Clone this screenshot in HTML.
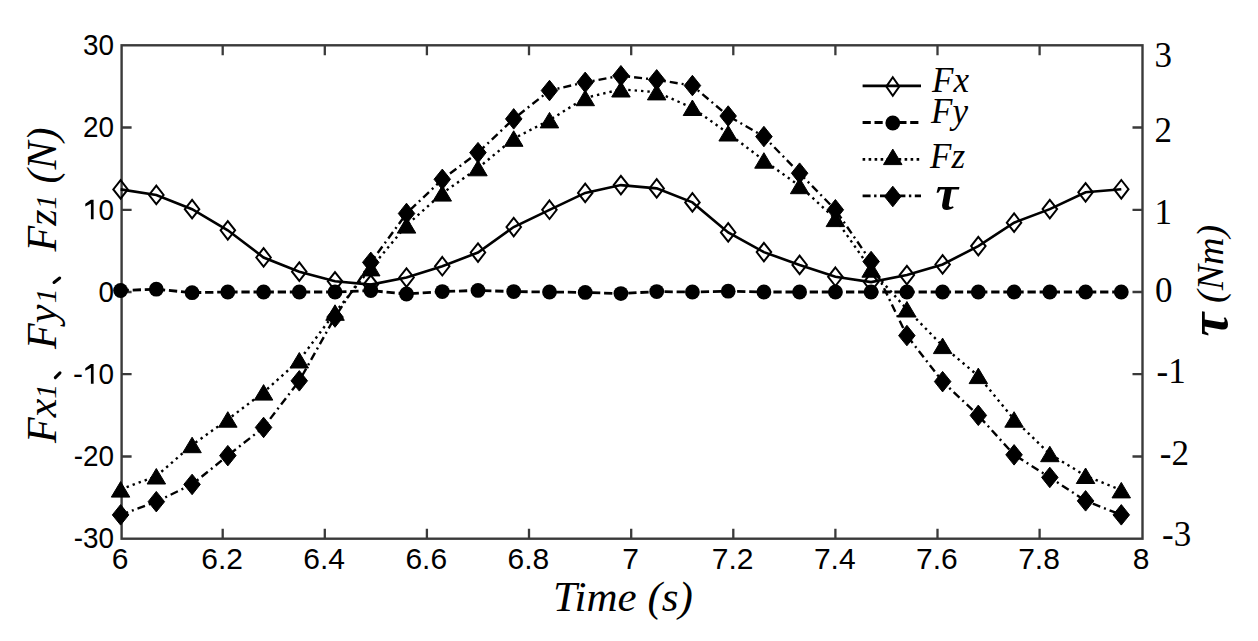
<!DOCTYPE html>
<html><head><meta charset="utf-8"><title>chart</title>
<style>html,body{margin:0;padding:0;background:#fff;}body{width:1258px;height:641px;overflow:hidden;}svg{display:block;}</style>
</head><body>
<svg width="1258" height="641" viewBox="0 0 1258 641">
<rect width="1258" height="641" fill="#fff"/>
<rect x="121.6" y="45.3" width="1020.9" height="493.4" fill="none" stroke="#3a3a3a" stroke-width="2.4"/>
<path d="M222.7 538.7V528.7M222.7 45.3V55.3M324.8 538.7V528.7M324.8 45.3V55.3M426.9 538.7V528.7M426.9 45.3V55.3M529.0 538.7V528.7M529.0 45.3V55.3M631.2 538.7V528.7M631.2 45.3V55.3M733.3 538.7V528.7M733.3 45.3V55.3M835.4 538.7V528.7M835.4 45.3V55.3M937.5 538.7V528.7M937.5 45.3V55.3M1039.6 538.7V528.7M1039.6 45.3V55.3M121.6 456.5H131.6M1142.5 456.5H1132.5M121.6 374.2H131.6M1142.5 374.2H1132.5M121.6 292.0H131.6M1142.5 292.0H1132.5M121.6 209.8H131.6M1142.5 209.8H1132.5M121.6 127.5H131.6M1142.5 127.5H1132.5" stroke="#3a3a3a" stroke-width="2.3" fill="none"/>
<polyline points="120.6,189.4 156.3,195.0 192.1,209.2 227.8,230.3 263.6,257.5 299.3,271.7 335.0,281.3 370.8,284.6 406.5,277.5 442.3,266.3 478.0,252.5 513.7,227.0 549.5,209.8 585.2,192.9 620.9,185.1 656.7,188.4 692.4,202.4 728.2,232.4 763.9,252.1 799.6,264.9 835.4,276.8 871.1,282.1 906.9,275.1 942.6,264.5 978.3,246.1 1014.1,222.7 1049.8,209.1 1085.6,192.3 1121.3,189.2" fill="none" stroke="#000" stroke-width="2.6"/>
<polyline points="120.6,290.5 156.3,289.2 192.1,292.7 227.8,292.0 263.6,292.0 299.3,292.0 335.0,292.0 370.8,290.6 406.5,294.0 442.3,291.6 478.0,290.4 513.7,291.6 549.5,292.0 585.2,292.4 620.9,293.6 656.7,291.6 692.4,292.0 728.2,291.2 763.9,292.0 799.6,292.0 835.4,292.0 871.1,292.0 906.9,292.0 942.6,292.0 978.3,292.0 1014.1,292.0 1049.8,292.0 1085.6,292.0 1121.3,292.0" fill="none" stroke="#000" stroke-width="2.8" stroke-dasharray="8.3 3.8"/>
<polyline points="120.6,489.4 156.3,476.2 192.1,445.0 227.8,419.5 263.6,392.3 299.3,360.3 335.0,312.6 370.8,268.2 406.5,225.4 442.3,193.3 478.0,168.1 513.7,138.6 549.5,120.1 585.2,97.9 620.9,89.3 656.7,92.2 692.4,107.8 728.2,133.3 763.9,160.4 799.6,185.9 835.4,218.8 871.1,269.5 906.9,309.3 942.6,345.9 978.3,375.9 1014.1,419.5 1049.8,454.0 1085.6,475.8 1121.3,490.2" fill="none" stroke="#000" stroke-width="2.4" stroke-dasharray="2.4 4"/>
<polyline points="120.6,514.9 156.3,501.7 192.1,484.4 227.8,455.6 263.6,427.4 299.3,380.8 335.0,317.1 370.8,262.4 406.5,213.5 442.3,179.3 478.0,152.6 513.7,118.9 549.5,90.5 585.2,82.3 620.9,75.7 656.7,79.8 692.4,85.6 728.2,116.0 763.9,136.6 799.6,173.2 835.4,209.8 871.1,261.6 906.9,335.6 942.6,381.6 978.3,415.4 1014.1,454.8 1049.8,477.4 1085.6,500.9 1121.3,514.9" fill="none" stroke="#000" stroke-width="2.4" stroke-dasharray="8 4 2 4"/>
<path d="M120.6 180.1L127.8 189.4L120.6 198.6L113.3 189.4Z" fill="none" stroke="#000" stroke-width="2.0" stroke-linejoin="miter"/>
<path d="M156.3 185.7L163.6 195.0L156.3 204.2L149.1 195.0Z" fill="none" stroke="#000" stroke-width="2.0" stroke-linejoin="miter"/>
<path d="M192.1 199.9L199.3 209.2L192.1 218.4L184.8 209.2Z" fill="none" stroke="#000" stroke-width="2.0" stroke-linejoin="miter"/>
<path d="M227.8 221.1L235.1 230.3L227.8 239.6L220.6 230.3Z" fill="none" stroke="#000" stroke-width="2.0" stroke-linejoin="miter"/>
<path d="M263.6 248.2L270.8 257.5L263.6 266.7L256.3 257.5Z" fill="none" stroke="#000" stroke-width="2.0" stroke-linejoin="miter"/>
<path d="M299.3 262.4L306.5 271.7L299.3 280.9L292.0 271.7Z" fill="none" stroke="#000" stroke-width="2.0" stroke-linejoin="miter"/>
<path d="M335.0 272.1L342.3 281.3L335.0 290.6L327.8 281.3Z" fill="none" stroke="#000" stroke-width="2.0" stroke-linejoin="miter"/>
<path d="M370.8 275.3L378.0 284.6L370.8 293.8L363.5 284.6Z" fill="none" stroke="#000" stroke-width="2.0" stroke-linejoin="miter"/>
<path d="M406.5 268.3L413.8 277.5L406.5 286.8L399.3 277.5Z" fill="none" stroke="#000" stroke-width="2.0" stroke-linejoin="miter"/>
<path d="M442.3 257.0L449.5 266.3L442.3 275.5L435.0 266.3Z" fill="none" stroke="#000" stroke-width="2.0" stroke-linejoin="miter"/>
<path d="M478.0 243.3L485.2 252.5L478.0 261.8L470.7 252.5Z" fill="none" stroke="#000" stroke-width="2.0" stroke-linejoin="miter"/>
<path d="M513.7 217.8L521.0 227.0L513.7 236.3L506.5 227.0Z" fill="none" stroke="#000" stroke-width="2.0" stroke-linejoin="miter"/>
<path d="M549.5 200.5L556.7 209.8L549.5 219.0L542.2 209.8Z" fill="none" stroke="#000" stroke-width="2.0" stroke-linejoin="miter"/>
<path d="M585.2 183.7L592.5 192.9L585.2 202.2L578.0 192.9Z" fill="none" stroke="#000" stroke-width="2.0" stroke-linejoin="miter"/>
<path d="M620.9 175.8L628.2 185.1L620.9 194.3L613.7 185.1Z" fill="none" stroke="#000" stroke-width="2.0" stroke-linejoin="miter"/>
<path d="M656.7 179.1L663.9 188.4L656.7 197.6L649.4 188.4Z" fill="none" stroke="#000" stroke-width="2.0" stroke-linejoin="miter"/>
<path d="M692.4 193.1L699.7 202.4L692.4 211.6L685.2 202.4Z" fill="none" stroke="#000" stroke-width="2.0" stroke-linejoin="miter"/>
<path d="M728.2 223.1L735.4 232.4L728.2 241.6L720.9 232.4Z" fill="none" stroke="#000" stroke-width="2.0" stroke-linejoin="miter"/>
<path d="M763.9 242.9L771.2 252.1L763.9 261.4L756.7 252.1Z" fill="none" stroke="#000" stroke-width="2.0" stroke-linejoin="miter"/>
<path d="M799.6 255.6L806.9 264.9L799.6 274.1L792.4 264.9Z" fill="none" stroke="#000" stroke-width="2.0" stroke-linejoin="miter"/>
<path d="M835.4 267.5L842.6 276.8L835.4 286.0L828.1 276.8Z" fill="none" stroke="#000" stroke-width="2.0" stroke-linejoin="miter"/>
<path d="M871.1 272.9L878.4 282.1L871.1 291.4L863.9 282.1Z" fill="none" stroke="#000" stroke-width="2.0" stroke-linejoin="miter"/>
<path d="M906.9 265.9L914.1 275.1L906.9 284.4L899.6 275.1Z" fill="none" stroke="#000" stroke-width="2.0" stroke-linejoin="miter"/>
<path d="M942.6 255.2L949.9 264.5L942.6 273.7L935.4 264.5Z" fill="none" stroke="#000" stroke-width="2.0" stroke-linejoin="miter"/>
<path d="M978.3 236.9L985.6 246.1L978.3 255.4L971.1 246.1Z" fill="none" stroke="#000" stroke-width="2.0" stroke-linejoin="miter"/>
<path d="M1014.1 213.4L1021.3 222.7L1014.1 231.9L1006.8 222.7Z" fill="none" stroke="#000" stroke-width="2.0" stroke-linejoin="miter"/>
<path d="M1049.8 199.9L1057.1 209.1L1049.8 218.4L1042.6 209.1Z" fill="none" stroke="#000" stroke-width="2.0" stroke-linejoin="miter"/>
<path d="M1085.6 183.1L1092.8 192.3L1085.6 201.6L1078.3 192.3Z" fill="none" stroke="#000" stroke-width="2.0" stroke-linejoin="miter"/>
<path d="M1121.3 180.0L1128.5 189.2L1121.3 198.5L1114.0 189.2Z" fill="none" stroke="#000" stroke-width="2.0" stroke-linejoin="miter"/>
<circle cx="120.6" cy="290.5" r="7.4" fill="#000"/>
<circle cx="156.3" cy="289.2" r="7.4" fill="#000"/>
<circle cx="192.1" cy="292.7" r="7.4" fill="#000"/>
<circle cx="227.8" cy="292.0" r="7.4" fill="#000"/>
<circle cx="263.6" cy="292.0" r="7.4" fill="#000"/>
<circle cx="299.3" cy="292.0" r="7.4" fill="#000"/>
<circle cx="335.0" cy="292.0" r="7.4" fill="#000"/>
<circle cx="370.8" cy="290.6" r="7.4" fill="#000"/>
<circle cx="406.5" cy="294.0" r="7.4" fill="#000"/>
<circle cx="442.3" cy="291.6" r="7.4" fill="#000"/>
<circle cx="478.0" cy="290.4" r="7.4" fill="#000"/>
<circle cx="513.7" cy="291.6" r="7.4" fill="#000"/>
<circle cx="549.5" cy="292.0" r="7.4" fill="#000"/>
<circle cx="585.2" cy="292.4" r="7.4" fill="#000"/>
<circle cx="620.9" cy="293.6" r="7.4" fill="#000"/>
<circle cx="656.7" cy="291.6" r="7.4" fill="#000"/>
<circle cx="692.4" cy="292.0" r="7.4" fill="#000"/>
<circle cx="728.2" cy="291.2" r="7.4" fill="#000"/>
<circle cx="763.9" cy="292.0" r="7.4" fill="#000"/>
<circle cx="799.6" cy="292.0" r="7.4" fill="#000"/>
<circle cx="835.4" cy="292.0" r="7.4" fill="#000"/>
<circle cx="871.1" cy="292.0" r="7.4" fill="#000"/>
<circle cx="906.9" cy="292.0" r="7.4" fill="#000"/>
<circle cx="942.6" cy="292.0" r="7.4" fill="#000"/>
<circle cx="978.3" cy="292.0" r="7.4" fill="#000"/>
<circle cx="1014.1" cy="292.0" r="7.4" fill="#000"/>
<circle cx="1049.8" cy="292.0" r="7.4" fill="#000"/>
<circle cx="1085.6" cy="292.0" r="7.4" fill="#000"/>
<circle cx="1121.3" cy="292.0" r="7.4" fill="#000"/>
<path d="M120.6 481.6L129.8 497.1L111.3 497.1Z" fill="#000" stroke="#000" stroke-width="1"/>
<path d="M156.3 468.5L165.6 484.0L147.1 484.0Z" fill="#000" stroke="#000" stroke-width="1"/>
<path d="M192.1 437.2L201.3 452.7L182.8 452.7Z" fill="#000" stroke="#000" stroke-width="1"/>
<path d="M227.8 411.7L237.1 427.2L218.6 427.2Z" fill="#000" stroke="#000" stroke-width="1"/>
<path d="M263.6 384.6L272.8 400.1L254.3 400.1Z" fill="#000" stroke="#000" stroke-width="1"/>
<path d="M299.3 352.5L308.5 368.0L290.0 368.0Z" fill="#000" stroke="#000" stroke-width="1"/>
<path d="M335.0 304.8L344.3 320.3L325.8 320.3Z" fill="#000" stroke="#000" stroke-width="1"/>
<path d="M370.8 260.4L380.0 275.9L361.5 275.9Z" fill="#000" stroke="#000" stroke-width="1"/>
<path d="M406.5 217.6L415.8 233.1L397.3 233.1Z" fill="#000" stroke="#000" stroke-width="1"/>
<path d="M442.3 185.6L451.5 201.1L433.0 201.1Z" fill="#000" stroke="#000" stroke-width="1"/>
<path d="M478.0 160.3L487.2 175.8L468.7 175.8Z" fill="#000" stroke="#000" stroke-width="1"/>
<path d="M513.7 130.8L523.0 146.3L504.5 146.3Z" fill="#000" stroke="#000" stroke-width="1"/>
<path d="M549.5 112.4L558.7 127.9L540.2 127.9Z" fill="#000" stroke="#000" stroke-width="1"/>
<path d="M585.2 90.2L594.5 105.7L576.0 105.7Z" fill="#000" stroke="#000" stroke-width="1"/>
<path d="M620.9 81.5L630.2 97.0L611.7 97.0Z" fill="#000" stroke="#000" stroke-width="1"/>
<path d="M656.7 84.4L665.9 99.9L647.4 99.9Z" fill="#000" stroke="#000" stroke-width="1"/>
<path d="M692.4 100.0L701.7 115.5L683.2 115.5Z" fill="#000" stroke="#000" stroke-width="1"/>
<path d="M728.2 125.5L737.4 141.0L718.9 141.0Z" fill="#000" stroke="#000" stroke-width="1"/>
<path d="M763.9 152.7L773.2 168.2L754.7 168.2Z" fill="#000" stroke="#000" stroke-width="1"/>
<path d="M799.6 178.2L808.9 193.7L790.4 193.7Z" fill="#000" stroke="#000" stroke-width="1"/>
<path d="M835.4 211.1L844.6 226.6L826.1 226.6Z" fill="#000" stroke="#000" stroke-width="1"/>
<path d="M871.1 261.7L880.4 277.2L861.9 277.2Z" fill="#000" stroke="#000" stroke-width="1"/>
<path d="M906.9 301.5L916.1 317.0L897.6 317.0Z" fill="#000" stroke="#000" stroke-width="1"/>
<path d="M942.6 338.1L951.9 353.6L933.4 353.6Z" fill="#000" stroke="#000" stroke-width="1"/>
<path d="M978.3 368.1L987.6 383.6L969.1 383.6Z" fill="#000" stroke="#000" stroke-width="1"/>
<path d="M1014.1 411.7L1023.3 427.2L1004.8 427.2Z" fill="#000" stroke="#000" stroke-width="1"/>
<path d="M1049.8 446.2L1059.1 461.7L1040.6 461.7Z" fill="#000" stroke="#000" stroke-width="1"/>
<path d="M1085.6 468.0L1094.8 483.5L1076.3 483.5Z" fill="#000" stroke="#000" stroke-width="1"/>
<path d="M1121.3 482.4L1130.5 497.9L1112.0 497.9Z" fill="#000" stroke="#000" stroke-width="1"/>
<path d="M120.6 504.6L128.8 514.9L120.6 525.1L112.3 514.9Z" fill="#000" stroke="#000" stroke-width="1" stroke-linejoin="miter"/>
<path d="M156.3 491.4L164.6 501.7L156.3 511.9L148.1 501.7Z" fill="#000" stroke="#000" stroke-width="1" stroke-linejoin="miter"/>
<path d="M192.1 474.2L200.3 484.4L192.1 494.7L183.8 484.4Z" fill="#000" stroke="#000" stroke-width="1" stroke-linejoin="miter"/>
<path d="M227.8 445.4L236.1 455.6L227.8 465.9L219.6 455.6Z" fill="#000" stroke="#000" stroke-width="1" stroke-linejoin="miter"/>
<path d="M263.6 417.2L271.8 427.4L263.6 437.7L255.3 427.4Z" fill="#000" stroke="#000" stroke-width="1" stroke-linejoin="miter"/>
<path d="M299.3 370.6L307.5 380.8L299.3 391.1L291.0 380.8Z" fill="#000" stroke="#000" stroke-width="1" stroke-linejoin="miter"/>
<path d="M335.0 306.8L343.3 317.1L335.0 327.3L326.8 317.1Z" fill="#000" stroke="#000" stroke-width="1" stroke-linejoin="miter"/>
<path d="M370.8 252.1L379.0 262.4L370.8 272.6L362.5 262.4Z" fill="#000" stroke="#000" stroke-width="1" stroke-linejoin="miter"/>
<path d="M406.5 203.2L414.8 213.5L406.5 223.7L398.3 213.5Z" fill="#000" stroke="#000" stroke-width="1" stroke-linejoin="miter"/>
<path d="M442.3 169.1L450.5 179.3L442.3 189.6L434.0 179.3Z" fill="#000" stroke="#000" stroke-width="1" stroke-linejoin="miter"/>
<path d="M478.0 142.4L486.2 152.6L478.0 162.9L469.7 152.6Z" fill="#000" stroke="#000" stroke-width="1" stroke-linejoin="miter"/>
<path d="M513.7 108.6L522.0 118.9L513.7 129.1L505.5 118.9Z" fill="#000" stroke="#000" stroke-width="1" stroke-linejoin="miter"/>
<path d="M549.5 80.3L557.7 90.5L549.5 100.8L541.2 90.5Z" fill="#000" stroke="#000" stroke-width="1" stroke-linejoin="miter"/>
<path d="M585.2 72.1L593.5 82.3L585.2 92.6L577.0 82.3Z" fill="#000" stroke="#000" stroke-width="1" stroke-linejoin="miter"/>
<path d="M620.9 65.5L629.2 75.7L620.9 86.0L612.7 75.7Z" fill="#000" stroke="#000" stroke-width="1" stroke-linejoin="miter"/>
<path d="M656.7 69.6L664.9 79.8L656.7 90.1L648.4 79.8Z" fill="#000" stroke="#000" stroke-width="1" stroke-linejoin="miter"/>
<path d="M692.4 75.3L700.7 85.6L692.4 95.8L684.2 85.6Z" fill="#000" stroke="#000" stroke-width="1" stroke-linejoin="miter"/>
<path d="M728.2 105.8L736.4 116.0L728.2 126.3L719.9 116.0Z" fill="#000" stroke="#000" stroke-width="1" stroke-linejoin="miter"/>
<path d="M763.9 126.3L772.2 136.6L763.9 146.8L755.7 136.6Z" fill="#000" stroke="#000" stroke-width="1" stroke-linejoin="miter"/>
<path d="M799.6 162.9L807.9 173.2L799.6 183.4L791.4 173.2Z" fill="#000" stroke="#000" stroke-width="1" stroke-linejoin="miter"/>
<path d="M835.4 199.5L843.6 209.8L835.4 220.0L827.1 209.8Z" fill="#000" stroke="#000" stroke-width="1" stroke-linejoin="miter"/>
<path d="M871.1 251.3L879.4 261.6L871.1 271.8L862.9 261.6Z" fill="#000" stroke="#000" stroke-width="1" stroke-linejoin="miter"/>
<path d="M906.9 325.3L915.1 335.6L906.9 345.8L898.6 335.6Z" fill="#000" stroke="#000" stroke-width="1" stroke-linejoin="miter"/>
<path d="M942.6 371.4L950.9 381.6L942.6 391.9L934.4 381.6Z" fill="#000" stroke="#000" stroke-width="1" stroke-linejoin="miter"/>
<path d="M978.3 405.1L986.6 415.4L978.3 425.6L970.1 415.4Z" fill="#000" stroke="#000" stroke-width="1" stroke-linejoin="miter"/>
<path d="M1014.1 444.6L1022.3 454.8L1014.1 465.1L1005.8 454.8Z" fill="#000" stroke="#000" stroke-width="1" stroke-linejoin="miter"/>
<path d="M1049.8 467.2L1058.1 477.4L1049.8 487.7L1041.6 477.4Z" fill="#000" stroke="#000" stroke-width="1" stroke-linejoin="miter"/>
<path d="M1085.6 490.6L1093.8 500.9L1085.6 511.1L1077.3 500.9Z" fill="#000" stroke="#000" stroke-width="1" stroke-linejoin="miter"/>
<path d="M1121.3 504.6L1129.5 514.9L1121.3 525.1L1113.0 514.9Z" fill="#000" stroke="#000" stroke-width="1" stroke-linejoin="miter"/>
<path d="M862.6 85.8H921.0" stroke="#000" stroke-width="2.8"/>
<path d="M892.8 77.3L899.3 86.6L892.8 95.8L886.3 86.6Z" fill="none" stroke="#000" stroke-width="2.0" stroke-linejoin="miter"/>
<path d="M862.6 122.4H918.4" stroke="#000" stroke-width="3" stroke-dasharray="8.2 3.7"/>
<circle cx="892.8" cy="123.0" r="7.4" fill="#000"/>
<path d="M862.6 159.4H921.0" stroke="#000" stroke-width="2.8" stroke-dasharray="2.6 3.4"/>
<path d="M892.8 149.1L902.0 164.6L883.5 164.6Z" fill="#000" stroke="#000" stroke-width="1"/>
<path d="M862.6 195.9H921.0" stroke="#000" stroke-width="2.8" stroke-dasharray="8 3.5 2.4 3.5"/>
<path d="M892.8 186.2L901.0 196.5L892.8 206.8L884.5 196.5Z" fill="#000" stroke="#000" stroke-width="1" stroke-linejoin="miter"/>
<g font-family='"Liberation Serif", serif' font-style="italic" font-size="35" fill="#000">
<text x="932" y="92">Fx</text>
<text x="931" y="123.4">Fy</text>
<text x="930" y="167.7">Fz</text>
</g>
<text x="935.5" y="209.8" font-family='"Liberation Serif", serif' font-style="italic" font-weight="bold" font-size="51" fill="#000">&#964;</text>
<g font-family='"Liberation Sans", sans-serif' font-size="30" fill="#000" text-anchor="end" transform="translate(114,0) scale(0.93,1) translate(-114,0)">
<text x="114" y="55.1">30</text>
<text x="114" y="137.3">20</text>
<text x="114" y="301.8">0</text>
<text x="114" y="466.3">-20</text>
<text x="114" y="548.5">-30</text>
<text x="114" y="219.6">0</text>
<text x="114" y="384.0">0</text>
</g>
<text x="83" y="384.0" font-family='"Liberation Sans", sans-serif' font-size="30" text-anchor="end">-</text>
<path d="M90.9 199.7H93.6V219.3H90.9ZM90.9 199.7L93.6 199.7L93.6 202.2L85.3 206.4L85.3 203.8ZM90.9 364.1H93.6V383.7H90.9ZM90.9 364.1L93.6 364.1L93.6 366.6L85.3 370.8L85.3 368.2Z" fill="#000"/>
<g font-family='"Liberation Sans", sans-serif' font-size="30" fill="#000" text-anchor="middle">
<text x="120.0" y="568.8">6</text>
<text x="222.1" y="568.8">6.2</text>
<text x="324.2" y="568.8">6.4</text>
<text x="426.3" y="568.8">6.6</text>
<text x="528.4" y="568.8">6.8</text>
<text x="630.6" y="568.8">7</text>
<text x="732.7" y="568.8">7.2</text>
<text x="834.8" y="568.8">7.4</text>
<text x="936.9" y="568.8">7.6</text>
<text x="1039.0" y="568.8">7.8</text>
<text x="1141.1" y="568.8">8</text>
</g>
<g font-family='"Liberation Serif", serif' font-size="35" fill="#000">
<text x="1154.5" y="66.8">3</text>
<text x="1154.5" y="141.9">2</text>
<text x="1154.5" y="224.4">1</text>
<text x="1155.0" y="301.6">0</text>
<text x="1156.5" y="382.5">-1</text>
<text x="1159.8" y="464.8">-2</text>
<text x="1162.0" y="545.8">-3</text>
</g>
<text x="553" y="610.6" font-family='"Liberation Serif", serif' font-style="italic" font-size="43" fill="#000">Time (s)</text>
<g font-family='"Liberation Serif", serif' font-style="italic" font-size="42" fill="#000">
<text transform="translate(56.1,443.0) rotate(-90)" x="0" y="0">Fx<tspan font-size="30">1</tspan></text>
<text transform="translate(56.1,349.0) rotate(-90)" x="0" y="0">Fy<tspan font-size="30" dx="1.5">1</tspan></text>
<text transform="translate(56.1,251.5) rotate(-90)" x="0" y="0">Fz<tspan font-size="30">1</tspan></text>
<text transform="translate(56.1,183.5) rotate(-90)" x="0" y="0">(N)</text>
</g>
<path d="M55.3 377.6L60 372.9M54 282.5L59.7 278" stroke="#000" stroke-width="3" stroke-linecap="round"/>
<g font-family='"Liberation Serif", serif' fill="#000" font-style="italic">
<text transform="translate(1227,336.5) rotate(-90)" font-weight="bold" font-size="54">&#964;</text>
<text transform="translate(1223,303) rotate(-90)" font-size="38">(Nm)</text>
</g>
</svg>
</body></html>
